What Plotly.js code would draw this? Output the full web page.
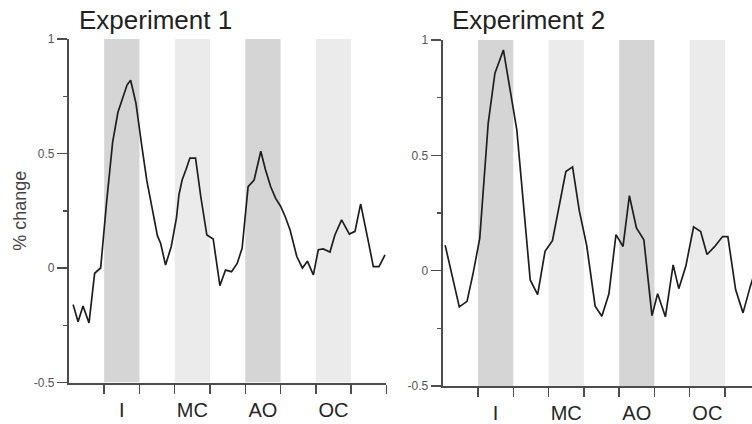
<!DOCTYPE html>
<html>
<head>
<meta charset="utf-8">
<script src="https://cdn.plot.ly/plotly-3.0.1.min.js"></script>
<style>html,body{margin:0;padding:0;background:#fff;}#chart{width:752px;height:424px;}</style>
</head>
<body>
<div id="chart"></div>
<script>
// ---- data ----
const panelTitles = ['Experiment 1', 'Experiment 2'];
const condLabels = ['I', 'MC', 'AO', 'OC'];
const condCenters = [1.5, 3.5, 5.5, 7.5];
const condStart = [1, 3, 5, 7];
const condEnd = [2, 4, 6, 8];
const blockTicks = [1, 2, 3, 4, 5, 6, 7, 8, 9];
const yTickVals = [-0.5, 0, 0.5, 1];
const yTickText = ['-0.5', '0', '0.5', '1'];
const yMinorVals = [-0.25, 0.25, 0.75];

const tExp1 = [0.12,0.26,0.40,0.57,0.73,0.90,1.07,1.24,1.39,1.55,1.65,1.75,1.90,2.06,2.21,2.36,2.51,2.60,2.74,2.90,
  3.05,3.12,3.21,3.32,3.43,3.59,3.74,3.91,4.09,4.28,4.44,4.61,4.77,4.91,5.08,5.25,5.44,5.57,5.72,5.86,
  6.00,6.13,6.27,6.46,6.62,6.76,6.93,7.07,7.21,7.40,7.54,7.73,7.95,8.11,8.27,8.46,8.63,8.79,8.96];
const vExp1 = [-0.16,-0.235,-0.166,-0.24,-0.023,0.0,0.29,0.55,0.68,0.76,0.80,0.82,0.72,0.54,0.38,0.26,0.14,0.108,0.013,0.093,
  0.22,0.32,0.384,0.43,0.48,0.48,0.31,0.144,0.127,-0.077,-0.009,-0.016,0.02,0.086,0.355,0.384,0.51,0.43,0.355,0.304,
  0.27,0.225,0.166,0.05,0.0,0.03,-0.03,0.08,0.083,0.07,0.144,0.21,0.148,0.16,0.28,0.137,0.006,0.006,0.057];

const tExp2 = [0.07,0.47,0.69,0.87,1.05,1.29,1.48,1.72,2.10,2.48,2.69,2.90,3.11,3.30,3.49,3.68,3.87,4.08,4.32,4.51,
  4.71,4.91,5.11,5.29,5.49,5.70,5.93,6.09,6.31,6.53,6.69,6.89,7.11,7.31,7.49,7.71,7.93,8.08,8.30,8.51,8.72,8.90];
const vExp2 = [0.11,-0.157,-0.133,-0.005,0.14,0.64,0.856,0.957,0.61,-0.04,-0.104,0.084,0.13,0.28,0.43,0.45,0.26,0.11,-0.154,-0.198,
  -0.1,0.156,0.105,0.325,0.185,0.134,-0.195,-0.1,-0.2,0.025,-0.078,0.02,0.19,0.17,0.07,0.105,0.148,0.148,-0.082,-0.183,-0.066,0.02];

// ---- layout helpers ----
const W = 752, H = 424;
const FONT = 'Liberation Sans, Arial, sans-serif';
const AX = '#4d4d4d';
const bandFill = ['#d5d5d5', '#ebebeb', '#d5d5d5', '#ebebeb'];

function xAxis(domain, range) {
  return {
    domain: domain, range: range, showgrid: false, zeroline: false,
    showline: true, linecolor: AX, linewidth: 2,
    tickmode: 'array', tickvals: condCenters, ticktext: condLabels,
    ticks: 'outside', ticklen: 8, tickcolor: 'rgba(0,0,0,0)',
    tickfont: {family: FONT, size: 20, color: '#262626'},
    minor: {tickmode: 'array', tickvals: blockTicks, ticks: 'outside', ticklen: 9, tickwidth: 1.5, tickcolor: AX, showgrid: false},
    fixedrange: true
  };
}
function yAxis(domain, anchor, withTitle) {
  const a = {
    domain: domain, range: [-0.5, 1], anchor: anchor, showgrid: false, zeroline: false,
    showline: true, linecolor: AX, linewidth: 2,
    tickmode: 'array', tickvals: yTickVals, ticktext: yTickText,
    ticks: 'outside', ticklen: 10, tickwidth: 1.5, tickcolor: AX,
    tickfont: {family: FONT, size: 12, color: '#555555'},
    minor: {tickmode: 'array', tickvals: yMinorVals, ticks: 'outside', ticklen: 4, tickwidth: 1.5, tickcolor: AX, showgrid: false},
    fixedrange: true
  };
  if (withTitle) a.title = {text: '% change', font: {family: FONT, size: 18, color: '#444444'}, standoff: 3};
  return a;
}

const traces = [
  {x: tExp1, y: vExp1, xaxis: 'x', yaxis: 'y', mode: 'lines', line: {color: '#1e1e1e', width: 1.7}, hoverinfo: 'skip'},
  {x: tExp2, y: vExp2, xaxis: 'x2', yaxis: 'y2', mode: 'lines', line: {color: '#1e1e1e', width: 1.7}, hoverinfo: 'skip'}
];

const shapes = [];
[['x', 'y'], ['x2', 'y2']].forEach(function (ax) {
  condStart.forEach(function (s, i) {
    shapes.push({type: 'rect', xref: ax[0], yref: ax[1], x0: s, x1: condEnd[i], y0: -0.5, y1: 1,
      fillcolor: bandFill[i], line: {width: 0}, layer: 'below'});
  });
});

const layout = {
  width: W, height: H,
  margin: {l: 0, r: 0, t: 0, b: 0},
  paper_bgcolor: '#ffffff', plot_bgcolor: 'rgba(0,0,0,0)',
  showlegend: false,
  font: {family: FONT},
  xaxis: Object.assign(xAxis([68.9 / W, 386.4 / W], [0, 9]), {anchor: 'y'}),
  yaxis: yAxis([(H - 382.5) / H, (H - 39) / H], 'x', true),
  xaxis2: Object.assign(xAxis([442.7 / W, 1], [0, (W - 442.7) / 35.29]), {anchor: 'y2'}),
  yaxis2: yAxis([(H - 386) / H, (H - 40) / H], 'x2', false),
  shapes: shapes,
  annotations: [
    {text: panelTitles[0], xref: 'paper', yref: 'paper', x: 155.3 / W, y: (H - 19.5) / H, xanchor: 'center', yanchor: 'middle',
     showarrow: false, font: {family: FONT, size: 26, color: '#222222'}},
    {text: panelTitles[1], xref: 'paper', yref: 'paper', x: 528.5 / W, y: (H - 19.5) / H, xanchor: 'center', yanchor: 'middle',
     showarrow: false, font: {family: FONT, size: 26, color: '#222222'}}
  ]
};

Plotly.newPlot('chart', traces, layout, {staticPlot: true, displayModeBar: false});
</script>
</body>
</html>
